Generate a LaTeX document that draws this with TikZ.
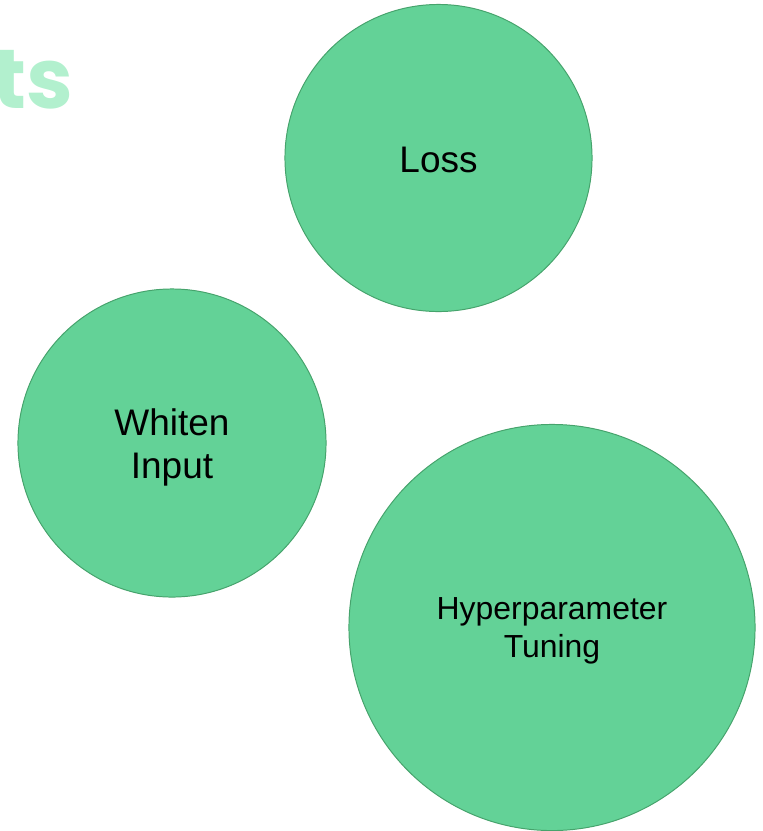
\documentclass[tikz,border=0pt]{standalone}
\usepackage{fontspec}
\setmainfont{Liberation Sans}
\newfontfamily\headfont{Poppins}
\usepackage{tikz}
\tikzset{>=latex}
\definecolor{bubblegreen}{RGB}{99, 210, 151}
\definecolor{bubbleedge}{RGB}{70, 163, 108}
\definecolor{mintgreen}{RGB}{178, 240, 206}
\tikzset{
  bubble/.style = {circle, draw = bubbleedge, fill = bubblegreen, line width = 0.7pt, inner sep = 0pt},
  bubbletext/.style = {align = center, inner sep = 0pt, text = black},
  bigtext/.style = {bubbletext, font = \fontsize{26.3}{30.6}\selectfont},
  smalltext/.style = {bubbletext, font = \fontsize{22.7}{27}\selectfont}
}

\begin{document}
\begin{tikzpicture}[x = 0.025cm, y = -0.025cm]
\useasboundingbox (0, 0) rectangle (763, 831);
\clip (0, 0) rectangle (763, 831);

% heading, cut off at the left edge
\node[anchor = base east, inner sep = 0pt, text = mintgreen,
      font = \headfont\bfseries\fontsize{59.6}{60}\selectfont] (head) at (74, 108) {ts};

% the three bubbles
\node[bubble, minimum size = 7.675cm] (loss) at (438.5, 158) {};
\node[bubble, minimum size = 7.7cm] (whiten) at (172, 443) {};
\node[bubble, minimum size = 10.15cm] (tuning) at (552, 627.5) {};

% their labels
\node[bigtext] (losstext) at ([yshift = -0.05cm]loss.center) {Loss};
\node[bigtext] (whitentext) at ([yshift = -0.1cm]whiten.center) {Whiten\\Input};
\node[smalltext] (tuningtext) at ([yshift = -0.08cm]tuning.center) {Hyperparameter\\Tuning};

\end{tikzpicture}
\end{document}
